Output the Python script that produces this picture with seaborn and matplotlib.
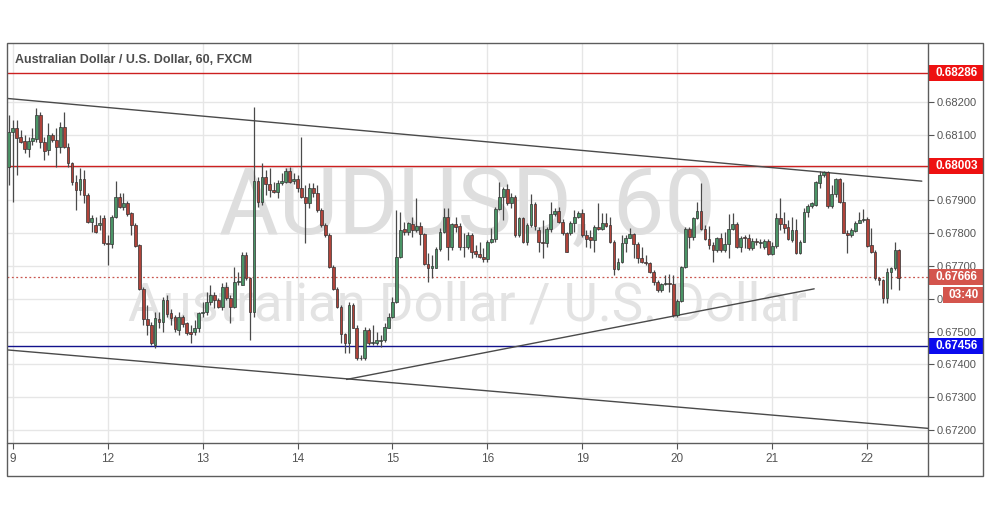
import numpy as np
import pandas as pd
import matplotlib
matplotlib.use("Agg")
import matplotlib.pyplot as plt
import matplotlib.transforms as mtransforms
from matplotlib.patches import Rectangle
from matplotlib.lines import Line2D
import seaborn as sns

# --- hourly AUD/USD candles (FXCM, 60 min) ---
opens = [0.68002, 0.68109, 0.68119, 0.68093, 0.68080, 0.68055, 0.68080, 0.68085, 0.68159, 0.68078,
         0.68053, 0.68098, 0.68083, 0.68063, 0.68124, 0.68063, 0.68012, 0.67954, 0.67931, 0.67966,
         0.67916, 0.67835, 0.67824, 0.67824, 0.67845, 0.67771, 0.67768, 0.67850, 0.67911, 0.67880,
         0.67890, 0.67860, 0.67824, 0.67763, 0.67631, 0.67538, 0.67520, 0.67459, 0.67538, 0.67530,
         0.67596, 0.67555, 0.67545, 0.67505, 0.67545, 0.67525, 0.67497, 0.67497, 0.67510, 0.67555,
         0.67560, 0.67591, 0.67611, 0.67596, 0.67574, 0.67637, 0.67603, 0.67576, 0.67652, 0.67642,
         0.67733, 0.67662, 0.67558, 0.67958, 0.67895, 0.67972, 0.67948, 0.67931, 0.67926, 0.67953,
         0.67956, 0.67989, 0.67958, 0.67966, 0.67938, 0.67911, 0.67890, 0.67936, 0.67921, 0.67870,
         0.67824, 0.67794, 0.67697, 0.67631, 0.67576, 0.67491, 0.67464, 0.67581, 0.67512, 0.67418,
         0.67418, 0.67505, 0.67464, 0.67464, 0.67471, 0.67474, 0.67512, 0.67545, 0.67591, 0.67728,
         0.67812, 0.67804, 0.67826, 0.67809, 0.67822, 0.67796, 0.67705, 0.67694, 0.67694, 0.67751,
         0.67804, 0.67850, 0.67758, 0.67827, 0.67821, 0.67758, 0.67756, 0.67794, 0.67745, 0.67735,
         0.67728, 0.67721, 0.67774, 0.67782, 0.67873, 0.67909, 0.67933, 0.67890, 0.67911, 0.67794,
         0.67845, 0.67772, 0.67824, 0.67888, 0.67809, 0.67774, 0.67769, 0.67812, 0.67858, 0.67867,
         0.67835, 0.67799, 0.67799, 0.67831, 0.67848, 0.67860, 0.67794, 0.67789, 0.67779, 0.67819,
         0.67812, 0.67829, 0.67824, 0.67774, 0.67689, 0.67713, 0.67769, 0.67786, 0.67796, 0.67766,
         0.67723, 0.67713, 0.67708, 0.67682, 0.67652, 0.67626, 0.67645, 0.67647, 0.67645, 0.67550,
         0.67594, 0.67695, 0.67811, 0.67789, 0.67847, 0.67868, 0.67812, 0.67782, 0.67765, 0.67748,
         0.67784, 0.67748, 0.67766, 0.67811, 0.67827, 0.67758, 0.67786, 0.67786, 0.67753, 0.67777,
         0.67769, 0.67756, 0.67777, 0.67735, 0.67761, 0.67845, 0.67827, 0.67817, 0.67779, 0.67809,
         0.67738, 0.67774, 0.67865, 0.67882, 0.67885, 0.67953, 0.67977, 0.67985, 0.67882, 0.67918,
         0.67964, 0.67895, 0.67801, 0.67794, 0.67806, 0.67832, 0.67840, 0.67843, 0.67763, 0.67743,
         0.67662, 0.67657, 0.67603, 0.67680, 0.67692, 0.67748]
highs = [0.68159, 0.68144, 0.68144, 0.68114, 0.68098, 0.68093, 0.68119, 0.68180, 0.68170, 0.68093,
         0.68134, 0.68104, 0.68119, 0.68139, 0.68170, 0.68073, 0.68017, 0.67977, 0.67997, 0.67992,
         0.67921, 0.67855, 0.67850, 0.67855, 0.67855, 0.67794, 0.67855, 0.67958, 0.67921, 0.67921,
         0.67897, 0.67865, 0.67829, 0.67768, 0.67636, 0.67581, 0.67530, 0.67560, 0.67560, 0.67606,
         0.67611, 0.67570, 0.67550, 0.67560, 0.67550, 0.67530, 0.67520, 0.67535, 0.67560, 0.67591,
         0.67621, 0.67642, 0.67621, 0.67601, 0.67647, 0.67652, 0.67611, 0.67697, 0.67682, 0.67743,
         0.67743, 0.67667, 0.68185, 0.67972, 0.68012, 0.67992, 0.67997, 0.67956, 0.67961, 0.67982,
         0.67997, 0.68002, 0.67982, 0.67977, 0.68093, 0.67946, 0.67951, 0.67951, 0.67946, 0.67875,
         0.67829, 0.67799, 0.67703, 0.67636, 0.67581, 0.67494, 0.67591, 0.67586, 0.67520, 0.67428,
         0.67515, 0.67510, 0.67520, 0.67500, 0.67489, 0.67525, 0.67555, 0.67606, 0.67870, 0.67865,
         0.67835, 0.67835, 0.67850, 0.67906, 0.67835, 0.67799, 0.67738, 0.67733, 0.67758, 0.67814,
         0.67875, 0.67875, 0.67829, 0.67850, 0.67829, 0.67799, 0.67804, 0.67799, 0.67763, 0.67774,
         0.67753, 0.67779, 0.67814, 0.67880, 0.67954, 0.67941, 0.67948, 0.67921, 0.67916, 0.67850,
         0.67850, 0.67829, 0.67919, 0.67895, 0.67819, 0.67840, 0.67819, 0.67895, 0.67875, 0.67880,
         0.67843, 0.67804, 0.67836, 0.67870, 0.67867, 0.67873, 0.67809, 0.67809, 0.67824, 0.67890,
         0.67860, 0.67860, 0.67850, 0.67779, 0.67723, 0.67794, 0.67794, 0.67814, 0.67799, 0.67774,
         0.67758, 0.67733, 0.67713, 0.67687, 0.67657, 0.67649, 0.67672, 0.67674, 0.67672, 0.67599,
         0.67700, 0.67819, 0.67819, 0.67850, 0.67895, 0.67951, 0.67824, 0.67822, 0.67774, 0.67789,
         0.67799, 0.67802, 0.67858, 0.67860, 0.67834, 0.67792, 0.67794, 0.67796, 0.67784, 0.67786,
         0.67782, 0.67782, 0.67782, 0.67774, 0.67860, 0.67908, 0.67865, 0.67840, 0.67850, 0.67843,
         0.67779, 0.67875, 0.67887, 0.67895, 0.67958, 0.67989, 0.67989, 0.67989, 0.67946, 0.67969,
         0.67969, 0.67956, 0.67809, 0.67814, 0.67838, 0.67863, 0.67873, 0.67848, 0.67814, 0.67748,
         0.67667, 0.67660, 0.67692, 0.67697, 0.67774, 0.67751]
lows = [0.67946, 0.67895, 0.67977, 0.68073, 0.68043, 0.68032, 0.68068, 0.68078, 0.68058, 0.68022,
        0.68038, 0.68078, 0.68002, 0.68043, 0.68058, 0.68002, 0.67946, 0.67870, 0.67916, 0.67890,
        0.67830, 0.67804, 0.67799, 0.67809, 0.67763, 0.67703, 0.67753, 0.67845, 0.67875, 0.67870,
        0.67853, 0.67794, 0.67758, 0.67626, 0.67520, 0.67489, 0.67459, 0.67449, 0.67510, 0.67500,
        0.67545, 0.67520, 0.67500, 0.67489, 0.67515, 0.67489, 0.67464, 0.67489, 0.67500, 0.67545,
        0.67550, 0.67581, 0.67571, 0.67571, 0.67566, 0.67596, 0.67525, 0.67571, 0.67642, 0.67642,
        0.67657, 0.67474, 0.67545, 0.67880, 0.67885, 0.67916, 0.67911, 0.67921, 0.67906, 0.67946,
        0.67951, 0.67951, 0.67948, 0.67926, 0.67906, 0.67769, 0.67875, 0.67911, 0.67865, 0.67819,
        0.67789, 0.67692, 0.67626, 0.67571, 0.67464, 0.67434, 0.67434, 0.67510, 0.67413, 0.67413,
        0.67413, 0.67459, 0.67459, 0.67459, 0.67454, 0.67469, 0.67510, 0.67540, 0.67586, 0.67723,
        0.67794, 0.67794, 0.67789, 0.67804, 0.67763, 0.67703, 0.67652, 0.67662, 0.67692, 0.67746,
        0.67799, 0.67718, 0.67748, 0.67804, 0.67748, 0.67728, 0.67751, 0.67723, 0.67728, 0.67723,
        0.67713, 0.67711, 0.67769, 0.67774, 0.67870, 0.67840, 0.67885, 0.67875, 0.67789, 0.67789,
        0.67769, 0.67763, 0.67819, 0.67809, 0.67743, 0.67723, 0.67758, 0.67804, 0.67853, 0.67829,
        0.67794, 0.67741, 0.67794, 0.67804, 0.67845, 0.67789, 0.67758, 0.67753, 0.67743, 0.67809,
        0.67809, 0.67819, 0.67769, 0.67672, 0.67687, 0.67708, 0.67743, 0.67784, 0.67723, 0.67708,
        0.67708, 0.67703, 0.67677, 0.67642, 0.67621, 0.67621, 0.67642, 0.67621, 0.67545, 0.67545,
        0.67591, 0.67692, 0.67753, 0.67779, 0.67843, 0.67809, 0.67779, 0.67751, 0.67713, 0.67743,
        0.67743, 0.67743, 0.67723, 0.67809, 0.67755, 0.67743, 0.67753, 0.67748, 0.67748, 0.67763,
        0.67753, 0.67751, 0.67733, 0.67733, 0.67753, 0.67809, 0.67799, 0.67779, 0.67774, 0.67735,
        0.67735, 0.67772, 0.67850, 0.67877, 0.67883, 0.67936, 0.67972, 0.67875, 0.67875, 0.67911,
        0.67890, 0.67799, 0.67738, 0.67789, 0.67802, 0.67829, 0.67835, 0.67758, 0.67738, 0.67657,
        0.67642, 0.67586, 0.67586, 0.67631, 0.67687, 0.67626]
closes = [0.68109, 0.68119, 0.68090, 0.68078, 0.68055, 0.68080, 0.68088, 0.68159, 0.68078, 0.68050,
          0.68098, 0.68083, 0.68063, 0.68124, 0.68063, 0.68012, 0.67954, 0.67931, 0.67966, 0.67916,
          0.67835, 0.67847, 0.67802, 0.67831, 0.67769, 0.67768, 0.67850, 0.67911, 0.67880, 0.67890,
          0.67857, 0.67824, 0.67761, 0.67631, 0.67538, 0.67520, 0.67464, 0.67540, 0.67530, 0.67596,
          0.67552, 0.67542, 0.67507, 0.67545, 0.67523, 0.67494, 0.67493, 0.67510, 0.67555, 0.67560,
          0.67591, 0.67611, 0.67596, 0.67574, 0.67637, 0.67601, 0.67576, 0.67652, 0.67654, 0.67733,
          0.67662, 0.67558, 0.67958, 0.67895, 0.67972, 0.67948, 0.67931, 0.67926, 0.67953, 0.67958,
          0.67989, 0.67956, 0.67966, 0.67938, 0.67911, 0.67890, 0.67936, 0.67921, 0.67870, 0.67824,
          0.67794, 0.67697, 0.67631, 0.67576, 0.67491, 0.67464, 0.67581, 0.67512, 0.67418, 0.67420,
          0.67505, 0.67464, 0.67467, 0.67474, 0.67474, 0.67515, 0.67545, 0.67591, 0.67728, 0.67809,
          0.67804, 0.67829, 0.67809, 0.67822, 0.67796, 0.67705, 0.67694, 0.67700, 0.67751, 0.67804,
          0.67850, 0.67758, 0.67827, 0.67819, 0.67758, 0.67756, 0.67794, 0.67743, 0.67735, 0.67728,
          0.67721, 0.67774, 0.67782, 0.67873, 0.67909, 0.67933, 0.67890, 0.67911, 0.67794, 0.67845,
          0.67772, 0.67824, 0.67888, 0.67821, 0.67774, 0.67771, 0.67812, 0.67858, 0.67867, 0.67835,
          0.67799, 0.67743, 0.67831, 0.67848, 0.67860, 0.67794, 0.67781, 0.67779, 0.67819, 0.67812,
          0.67829, 0.67822, 0.67774, 0.67689, 0.67713, 0.67769, 0.67786, 0.67796, 0.67766, 0.67723,
          0.67713, 0.67708, 0.67682, 0.67652, 0.67626, 0.67645, 0.67647, 0.67645, 0.67550, 0.67594,
          0.67695, 0.67811, 0.67789, 0.67847, 0.67868, 0.67812, 0.67782, 0.67765, 0.67748, 0.67784,
          0.67748, 0.67766, 0.67811, 0.67827, 0.67758, 0.67786, 0.67784, 0.67753, 0.67777, 0.67772,
          0.67774, 0.67777, 0.67735, 0.67761, 0.67845, 0.67827, 0.67816, 0.67782, 0.67809, 0.67738,
          0.67774, 0.67865, 0.67882, 0.67890, 0.67954, 0.67977, 0.67985, 0.67882, 0.67918, 0.67964,
          0.67895, 0.67801, 0.67794, 0.67809, 0.67832, 0.67840, 0.67843, 0.67761, 0.67743, 0.67662,
          0.67656, 0.67603, 0.67680, 0.67692, 0.67748, 0.67664]

# session starts (bar index) and their labels
day_bars = [1, 25, 49, 73, 97, 121, 145, 169, 193, 217]
day_labels = ["9", "12", "13", "14", "15", "16", "19", "20", "21", "22"]
price_ticks = [0.672, 0.673, 0.674, 0.675, 0.676, 0.677, 0.678, 0.679, 0.680, 0.681, 0.682]

# horizontal levels
red_levels = [0.68286, 0.68003]
blue_level = 0.67456
last_price = 0.67666
countdown = "03:40"

# drawn trend lines: (bar, price) end points
upper_x, upper_y = [-0.44, 230.8], [0.68210, 0.67958]
lower_x, lower_y = [-0.44, 232.37], [0.67444, 0.67205]
rise_x, rise_y = [85.4, 203.6], [0.67354, 0.67630]

df = pd.DataFrame({"open": opens, "high": highs, "low": lows, "close": closes})
df["bar"] = np.arange(len(df))

# --- figure / layout ---
sns.set_style("white")
plt.rcParams["font.family"] = ["Liberation Sans", "DejaVu Sans"]

W, H = 991, 507
fig = plt.figure(figsize=(W / 100, H / 100), dpi=100)
ax = fig.add_axes([7 / W, 1 - 443 / H, 921 / W, 400 / H])

ymin, ymax = 0.671604, 0.683788
ax.set_xlim(-0.44, 232.37)
ax.set_ylim(ymin, ymax)
ppx = (ymax - ymin) / 400  # price per pixel

ax.set_axisbelow(True)
ax.grid(True, color="#e6e6e6", lw=1)
for s in ax.spines.values():
    s.set_visible(False)

# watermark
ax.text(0.5, 0.52, "AUDUSD, 60", transform=ax.transAxes, ha="center", va="baseline",
        fontsize=66, color="#dedede", family="Roboto", zorder=0.6)
ax.text(0.5, 0.3075, "Australian Dollar / U.S. Dollar", transform=ax.transAxes, ha="center",
        va="baseline", fontsize=38, color="#e3e3e3", family="Roboto", zorder=0.6)

# levels
for lv in red_levels:
    ax.axhline(lv, color="#cc2020", lw=1, zorder=1.5)
ax.axhline(blue_level, color="#12128c", lw=1, zorder=1.5)
ax.axhline(last_price, color="#c9564f", lw=0.9, ls=(0, (1.5, 2)), zorder=1.5)

# trend lines
for tx, ty in [(upper_x, upper_y), (lower_x, lower_y), (rise_x, rise_y)]:
    sns.lineplot(x=tx, y=ty, ax=ax, color="#4a4a4a", lw=1, estimator=None, zorder=1.6)

# candles
up = df["close"] >= df["open"]
ax.vlines(df["bar"], df["low"], df["high"], color="#4a4a4a", lw=0.9, zorder=2)
body = (df["close"] - df["open"]).abs().clip(lower=0.000025)
ax.bar(df["bar"], body, bottom=df[["open", "close"]].min(axis=1), width=0.7,
       color=np.where(up, "#4a9466", "#b0433a"), edgecolor="#333333", linewidth=0.5, zorder=3)

# axes ticks (0.68000 sits under the 0.68003 tag, so its label is left blank)
ax.yaxis.tick_right()
ax.set_yticks(price_ticks)
ax.set_yticklabels(["" if abs(p - red_levels[1]) < 0.0002 else f"{p:.5f}" for p in price_ticks])
ax.tick_params(axis="y", right=True, left=False, length=4, width=0.8, color="#555555",
               pad=2.5, labelsize=8, labelcolor="#555555")
ax.set_xticks(day_bars)
ax.set_xticklabels(day_labels)
ax.tick_params(axis="x", bottom=True, length=4, width=0.8, color="#555555",
               pad=3.5, labelsize=8.5, labelcolor="#555555")
ax.set_xlabel("")
ax.set_ylabel("")

# title
ax.text(8 / 921, (443 - 60) / 400, "Australian Dollar / U.S. Dollar, 60, FXCM", transform=ax.transAxes,
        ha="left", va="center", fontsize=9, fontweight="bold", color="#4d4d4d", zorder=12)

# price tags on the scale
trans = mtransforms.blended_transform_factory(ax.transAxes, ax.transData)


def price_tag(y, txt, color, x0=1.0006, x1=(984 - 7) / 921, h=16):
    ax.add_patch(Rectangle((x0, y - h / 2 * ppx), x1 - x0, h * ppx, transform=trans,
                           facecolor=color, lw=0, clip_on=False, zorder=10))
    ax.text((x0 + x1) / 2, y, txt, transform=trans, ha="center", va="center", color="white",
            fontsize=8.5, fontweight="bold", zorder=11, clip_on=False)


for lv in red_levels:
    price_tag(lv, f"{lv:.5f}", "#ee1111")
price_tag(blue_level, f"{blue_level:.5f}", "#0a0aee")
price_tag(last_price, f"{last_price:.5f}", "#d4554d")
price_tag(last_price - 18 * ppx, countdown, "#d4554d", x0=(943 - 7) / 921)

# outer frame
frame = "#5c5c5c"
fig.add_artist(Rectangle((7 / W, 1 - 476 / H), 976 / W, 433 / H, fill=False, ec=frame, lw=1,
                         transform=fig.transFigure))
fig.add_artist(Line2D([928 / W] * 2, [1 - 43 / H, 1 - 476 / H], color=frame, lw=1))
fig.add_artist(Line2D([7 / W, 983 / W], [1 - 443 / H] * 2, color=frame, lw=1))

fig.savefig("out.png", dpi=100, facecolor="white")
